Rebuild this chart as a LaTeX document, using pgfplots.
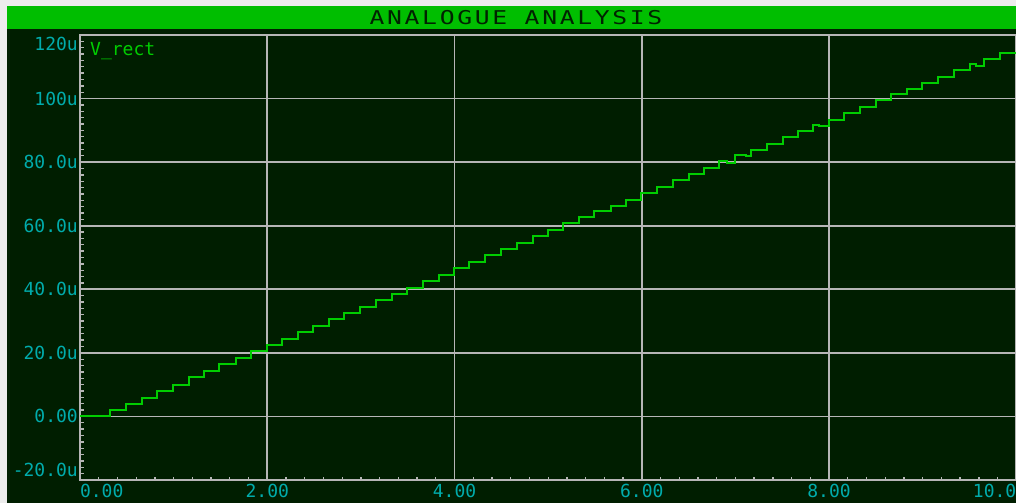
\documentclass[border=0pt]{standalone}
\usepackage{fontspec}
\usepackage{pgfplots}
\pgfplotsset{compat=1.18}

\newfontfamily\lcd{DejaVu Sans Mono}
\newfontfamily\lcdwide{DejaVu Sans Mono}[FakeStretch=1.3, LetterSpace=14]

\definecolor{framegray}{RGB}{236,236,236}
\definecolor{scopebg}{RGB}{0,30,0}
\definecolor{titlegreen}{RGB}{0,190,0}
\definecolor{titletext}{RGB}{0,35,0}
\definecolor{tracegreen}{RGB}{0,205,0}
\definecolor{labelcyan}{RGB}{0,172,172}
\definecolor{gridgray}{RGB}{182,182,182}

\begin{document}
\begin{tikzpicture}
\useasboundingbox (0,0) rectangle (1016pt,503pt);
% window frame, scope background and title bar
\fill[framegray] (0,0) rectangle (1016pt,503pt);
\fill[scopebg] (7pt,0) rectangle (1016pt,497pt);
\fill[titlegreen] (7pt,474pt) rectangle (1016pt,497pt);
\node[font=\lcdwide\fontsize{19}{19}\selectfont, text=titletext, inner sep=0pt]
  at (516pt,485.5pt) {ANALOGUE ANALYSIS};

\begin{axis}[
  at={(80pt,23pt)}, anchor=south west,
  scale only axis, width=936.3pt, height=445pt,
  xmin=0, xmax=10, ymin=-20, ymax=120,
  axis line style={draw=gridgray, line width=1.8pt},
  grid=major,
  major grid style={draw=gridgray, line width=1.6pt},
  xtick={0,2,4,6,8,10},
  xticklabels={\rlap{0.00},2.00,4.00,6.00,8.00,\llap{10.0}},
  ytick={-20,0,20,40,60,80,100,120},
  yticklabels={\raisebox{10pt}[\height][\depth]{-20.0u},0.00,20.0u,40.0u,60.0u,80.0u,100u,\raisebox{-9pt}[\height][\depth]{120u}},
  minor x tick num=9, minor y tick num=9,
  xtick pos=bottom, ytick pos=left,
  tick align=inside,
  major tick length=0pt, minor tick length=3.5pt,
  minor tick style={draw=gridgray, line width=1.3pt},
  xticklabel style={font=\lcd\fontsize{18}{18}\selectfont, text=labelcyan,
    anchor=north, inner sep=0pt, yshift=-4pt},
  yticklabel style={font=\lcd\fontsize{18}{18}\selectfont, text=labelcyan,
    anchor=east, inner sep=0pt, xshift=-2pt},
  legend style={at={(0,1)}, anchor=north west, draw=none, fill=none,
    font=\lcd\fontsize{18}{18}\selectfont, text=tracegreen,
    inner sep=0pt, xshift=8pt, yshift=-5pt},
  legend image code/.code={},
  legend cell align=left,
]
\addplot[const plot, draw=tracegreen, line width=2pt] coordinates {
  (0,0) (0.320,1.9) (0.488,3.9) (0.659,5.9) (0.826,7.9) (0.990,10.0)
  (1.164,12.3) (1.324,14.4) (1.488,16.4) (1.663,18.4) (1.826,20.5)
  (1.994,22.4) (2.158,24.4) (2.325,26.5) (2.492,28.5) (2.663,30.5)
  (2.823,32.5) (2.990,34.5) (3.158,36.5) (3.329,38.5) (3.496,40.4)
  (3.667,42.5) (3.834,44.6) (3.998,46.6) (4.158,48.6) (4.325,50.7)
  (4.496,52.7) (4.664,54.7) (4.835,56.7) (4.995,58.7) (5.162,60.7)
  (5.329,62.7) (5.493,64.7) (5.668,66.2) (5.828,68.1) (5.992,70.2)
  (6.159,72.2) (6.330,74.3) (6.504,76.2) (6.668,78.2) (6.825,80.3)
  (6.907,79.7) (6.995,82.3) (7.113,81.8) (7.163,83.8) (7.334,85.8)
  (7.505,87.8) (7.665,89.8) (7.832,91.8) (7.893,91.3) (8.000,93.4)
  (8.163,95.4) (8.331,97.4) (8.498,99.4) (8.659,101.4) (8.830,103.0)
  (8.996,105.0) (9.167,106.9) (9.335,109.0) (9.505,110.9) (9.566,110.4)
  (9.658,112.4) (9.829,114.4) (10,114.4)
};
\addlegendentry{V\_rect}
\end{axis}
\end{tikzpicture}
\end{document}
